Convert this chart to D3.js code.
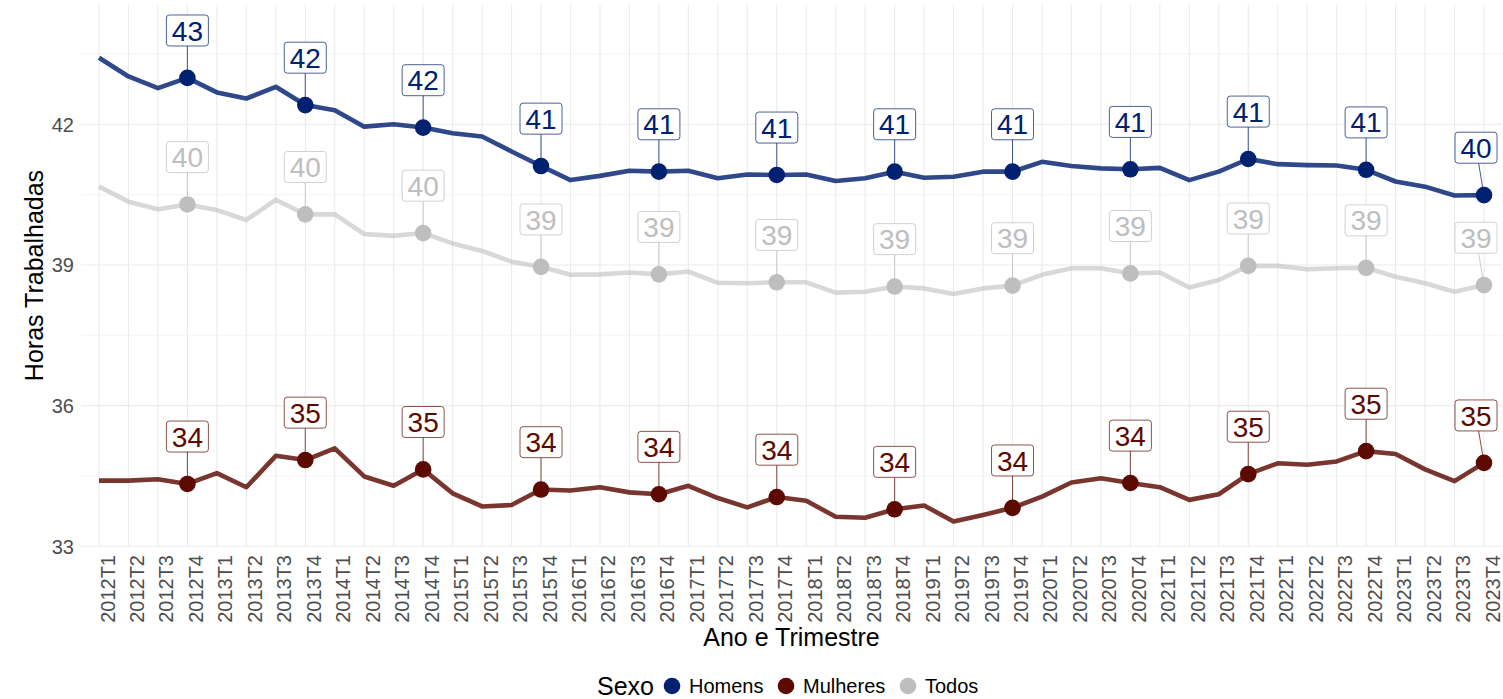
<html>
<head>
<title>Horas Trabalhadas</title>
<style>
body { margin: 0; background: #fff; font-family: "Liberation Sans", Arial, Helvetica, sans-serif; }
</style>
</head>
<body>
<div id="chart-holder"></div>
<script src="https://d3js.org/d3.v7.min.js"></script>
<script>
// data
var quarters = ['2012T1','2012T2','2012T3','2012T4','2013T1','2013T2','2013T3','2013T4',
  '2014T1','2014T2','2014T3','2014T4','2015T1','2015T2','2015T3','2015T4',
  '2016T1','2016T2','2016T3','2016T4','2017T1','2017T2','2017T3','2017T4',
  '2018T1','2018T2','2018T3','2018T4','2019T1','2019T2','2019T3','2019T4',
  '2020T1','2020T2','2020T3','2020T4','2021T1','2021T2','2021T3','2021T4',
  '2022T1','2022T2','2022T3','2022T4','2023T1','2023T2','2023T3','2023T4'];

var homens = [43.42, 43.02, 42.77, 42.99, 42.68, 42.55, 42.80, 42.41, 42.30, 41.95, 42.00, 41.93, 41.81, 41.74, 41.42, 41.11,
  40.81, 40.90, 41.01, 40.99, 41.01, 40.85, 40.93, 40.92, 40.93, 40.79, 40.85, 40.99, 40.86, 40.88, 40.99, 40.99,
  41.20, 41.11, 41.06, 41.04, 41.07, 40.81, 40.99, 41.26, 41.15, 41.13, 41.12, 41.03, 40.78, 40.67, 40.48, 40.49];

var mulheres = [34.40, 34.40, 34.43, 34.33, 34.56, 34.26, 34.93, 34.84, 35.09, 34.49, 34.29, 34.64, 34.13, 33.85, 33.88, 34.21,
  34.19, 34.26, 34.15, 34.11, 34.29, 34.03, 33.83, 34.05, 33.97, 33.63, 33.61, 33.79, 33.87, 33.53, 33.67, 33.82,
  34.06, 34.36, 34.45, 34.35, 34.26, 33.99, 34.11, 34.54, 34.77, 34.74, 34.81, 35.03, 34.97, 34.64, 34.39, 34.78];

var todos = [40.67, 40.35, 40.19, 40.29, 40.17, 39.96, 40.39, 40.08, 40.08, 39.66, 39.62, 39.68, 39.46, 39.30, 39.07, 38.96,
  38.79, 38.80, 38.84, 38.80, 38.86, 38.62, 38.61, 38.63, 38.63, 38.41, 38.43, 38.54, 38.50, 38.38, 38.50, 38.56,
  38.79, 38.93, 38.93, 38.82, 38.84, 38.52, 38.68, 38.98, 38.98, 38.91, 38.93, 38.94, 38.75, 38.61, 38.43, 38.57];

var sexo = ['Homens', 'Mulheres', 'Todos'];
var colors = ['#002070', '#5C0A00', '#BEBEBE'];
var lineOpacity = [0.82, 0.82, 0.6];
var yTicks = [33, 36, 39, 42];
var yMinor = [34.5, 37.5, 40.5, 43.5];

var width = 1503;
var height = 699;

var svg = d3.select('#chart-holder')
  .append('svg')
  .attr('width', width)
  .attr('height', height);

// scales
var x = d3.scalePoint().domain(quarters).range([99, 1484]);
var y = d3.scaleLinear().domain([33, 42]).range([546.3, 124.3]);
var color = d3.scaleOrdinal().domain(sexo).range(colors);
var opac = d3.scaleOrdinal().domain(sexo).range(lineOpacity);

var panel = {left: 81, right: 1502, top: y(44.55), bottom: y(33)};

// grid
var grid = svg.append('g');
grid.selectAll('.minor')
  .data(yMinor)
  .enter()
  .append('line')
  .attr('x1', panel.left).attr('x2', panel.right)
  .attr('y1', d => y(d)).attr('y2', d => y(d))
  .attr('stroke', '#F2F2F2').attr('stroke-width', 0.8);
grid.selectAll('.vgrid')
  .data(quarters)
  .enter()
  .append('line')
  .attr('x1', d => x(d)).attr('x2', d => x(d))
  .attr('y1', panel.top).attr('y2', panel.bottom)
  .attr('stroke', '#EBEBEB').attr('stroke-width', 1.1);
grid.selectAll('.major')
  .data(yTicks)
  .enter()
  .append('line')
  .attr('x1', panel.left).attr('x2', panel.right)
  .attr('y1', d => y(d)).attr('y2', d => y(d))
  .attr('stroke', '#EBEBEB').attr('stroke-width', 1.1);

// axes text
svg.append('g').selectAll('text')
  .data(yTicks)
  .enter()
  .append('text')
  .attr('x', 74)
  .attr('y', d => y(d))
  .attr('dy', '0.36em')
  .attr('text-anchor', 'end')
  .attr('font-size', '20px')
  .attr('fill', '#4D4D4D')
  .text(d => d);

svg.append('g').selectAll('text')
  .data(quarters)
  .enter()
  .append('text')
  .attr('transform', d => 'translate(' + (x(d) + 15.5) + ',555) rotate(-90)')
  .attr('text-anchor', 'end')
  .attr('font-size', '20px')
  .attr('fill', '#4D4D4D')
  .text(d => d);

svg.append('text')
  .attr('x', (panel.left + panel.right) / 2)
  .attr('y', 646)
  .attr('text-anchor', 'middle')
  .attr('font-size', '25px')
  .attr('fill', '#000')
  .text('Ano e Trimestre');

svg.append('text')
  .attr('transform', 'translate(43,' + ((panel.top + panel.bottom) / 2) + ') rotate(-90)')
  .attr('text-anchor', 'middle')
  .attr('font-size', '25px')
  .attr('fill', '#000')
  .text('Horas Trabalhadas');

// series
var series = [homens, mulheres, todos].map(function(vals, i) {
  return {
    name: sexo[i],
    values: vals.map(function(v, j) { return {q: quarters[j], v: v}; })
  };
});

var line = d3.line()
  .x(d => x(d.q))
  .y(d => y(d.v));

var groups = svg.selectAll('.serie')
  .data(series)
  .enter()
  .append('g')
  .attr('class', 'serie');

groups.append('path')
  .attr('d', d => line(d.values))
  .attr('fill', 'none')
  .attr('stroke', d => color(d.name))
  .attr('stroke-opacity', d => opac(d.name))
  .attr('stroke-width', 4.6)
  .attr('stroke-linejoin', 'round');

// points + labels on fourth quarters
var marked = [];
series.forEach(function(s) {
  s.values.forEach(function(d) {
    if (d.q.slice(-2) === 'T4') marked.push({name: s.name, q: d.q, v: d.v});
  });
});

svg.append('g').selectAll('circle')
  .data(marked)
  .enter()
  .append('circle')
  .attr('cx', d => x(d.q))
  .attr('cy', d => y(d.v))
  .attr('r', 8.3)
  .attr('fill', d => color(d.name));

var boxW = 42, boxH = 31;
var labels = svg.append('g').selectAll('g')
  .data(marked)
  .enter()
  .append('g');

labels.each(function(d) {
  var g = d3.select(this);
  var px = x(d.q), py = y(d.v);
  var cx = Math.min(px, panel.right - 5 - boxW / 2);
  var cy = y(d.v + 1) - 0.5;
  var c = color(d.name);
  // segment from point toward the box
  var bx = cx, by = cy + boxH / 2;
  if (cx !== px) {
    var t = (boxH / 2) / (py - cy);
    bx = cx + (px - cx) * t;
  }
  g.append('line')
    .attr('x1', px).attr('y1', py)
    .attr('x2', bx).attr('y2', by)
    .attr('stroke', c).attr('stroke-opacity', 0.75)
    .attr('stroke-width', 1);
  g.append('rect')
    .attr('x', cx - boxW / 2).attr('y', cy - boxH / 2)
    .attr('width', boxW).attr('height', boxH)
    .attr('rx', 3).attr('ry', 3)
    .attr('fill', '#fff')
    .attr('stroke', c).attr('stroke-opacity', 0.7)
    .attr('stroke-width', 1);
  g.append('text')
    .attr('x', cx).attr('y', cy)
    .attr('dy', '0.36em')
    .attr('text-anchor', 'middle')
    .attr('font-size', '28px')
    .attr('fill', c)
    .text(Math.round(d.v));
});

// legend
var legend = svg.append('g');
var lx = 597, ly = 686;
legend.append('text')
  .attr('x', lx).attr('y', ly + 9)
  .attr('font-size', '25px')
  .text('Sexo');
var kx = [672, 786, 908];
sexo.forEach(function(s, i) {
  legend.append('circle')
    .attr('cx', kx[i]).attr('cy', ly)
    .attr('r', 8.3)
    .attr('fill', color(s));
  legend.append('text')
    .attr('x', kx[i] + 17).attr('y', ly + 7)
    .attr('font-size', '20px')
    .attr('fill', '#000')
    .text(s);
});
</script>
</body>
</html>
